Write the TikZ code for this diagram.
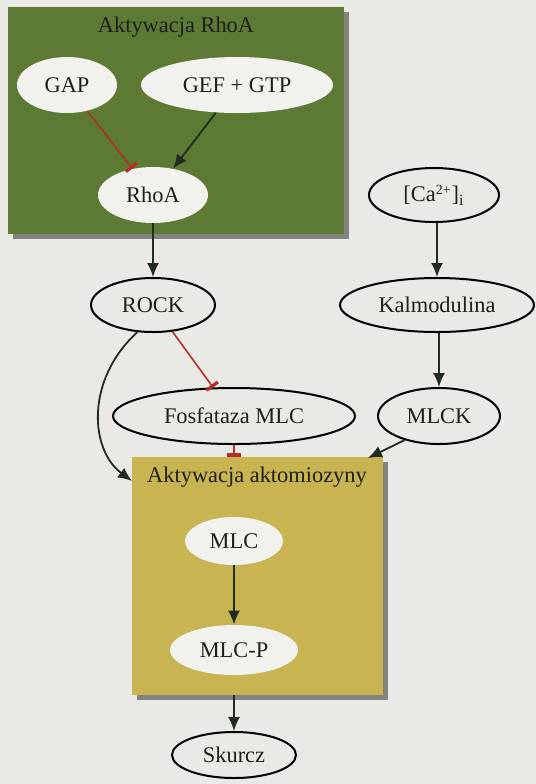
\documentclass[tikz,border=0pt]{standalone}
\usepackage{fontspec}
\setmainfont{Liberation Serif}
\usetikzlibrary{shapes.geometric,arrows.meta,shadows}
\definecolor{bg}{RGB}{233,233,230}
\definecolor{boxgreen}{RGB}{93,122,52}
\definecolor{boxyellow}{RGB}{201,180,82}
\definecolor{elfill}{RGB}{241,241,238}
\definecolor{arrcol}{RGB}{32,44,32}
\definecolor{inhcol}{RGB}{178,48,40}
\definecolor{txt}{RGB}{30,30,26}
\begin{document}
\begin{tikzpicture}[x=0.5pt,y=-0.5pt,
  font=\fontsize{11.2}{13}\selectfont, text=txt,
  inner/.style={ellipse, fill=elfill, inner sep=0pt},
  outer/.style={ellipse, draw=black, line width=1pt, inner sep=0pt},
  group/.style={inner sep=0pt, drop shadow={shadow xshift=2.5pt, shadow yshift=-2.5pt, fill=black!75, opacity=0.6}},
  arr/.style={draw=arrcol, line width=0.9pt, -{Latex[length=7pt,width=6pt]}},
  inhib/.style={draw=inhcol, line width=0.8pt, -{Bar[width=7pt,line width=1.6pt]}}]
\useasboundingbox[fill=bg] (0,0) rectangle (536,784);
% groups
\node[group, fill=boxgreen, minimum width=168pt, minimum height=113.5pt] (gbox) at (175.5,120.5) {};
\node (gtitle) at (176,27) {Aktywacja RhoA};
\node[group, fill=boxyellow, minimum width=125.5pt, minimum height=119pt] (ybox) at (257.5,576) {};
\node (ytitle) at (257,477) {Aktywacja aktomiozyny};
% inner nodes
\node[inner, minimum width=50pt, minimum height=28pt] (gap) at (67,85) {GAP};
\node[inner, minimum width=96pt, minimum height=28pt] (gef) at (237,85) {GEF + GTP};
\node[inner, minimum width=55pt, minimum height=28pt] (rhoa) at (153,195) {RhoA};
\node[inner, minimum width=49pt, minimum height=24pt] (mlc) at (234,541) {MLC};
\node[inner, minimum width=64pt, minimum height=25pt] (mlcp) at (234,650) {MLC-P};
% outer nodes
\node[outer, minimum width=65pt, minimum height=27pt] (ca) at (434,195) {[Ca\textsuperscript{\scriptsize 2+}]\textsubscript{i}};
\node[outer, minimum width=62pt, minimum height=27pt] (rock) at (153,305) {ROCK};
\node[outer, minimum width=97pt, minimum height=27pt] (kalm) at (437,305) {Kalmodulina};
\node[outer, minimum width=121pt, minimum height=28pt] (fosf) at (234,416) {Fosfataza MLC};
\node[outer, minimum width=61pt, minimum height=28pt] (mlck) at (439,416) {MLCK};
\node[outer, minimum width=62pt, minimum height=23pt] (skurcz) at (234,755) {Skurcz};
\coordinate (yin) at (132,481);
\coordinate (yin2) at (368,458);
% connectors
\draw[inhib] (gap) -- (rhoa);
\draw[arr] (gef) -- (rhoa);
\draw[arr] (rhoa) -- (rock);
\draw[arr] (ca.south -| kalm) -- (kalm);
\draw[arr] (kalm.south -| mlck) -- (mlck);
\draw[inhib] (rock) -- (fosf);
\draw[inhib] (fosf.south) -- (fosf.south |- ybox.north);
\draw[arr] (rock.240) .. controls (85,380) and (90,450) .. (yin);
\draw[arr] (mlck.215) -- (yin2);
\draw[arr] (mlc) -- (mlcp);
\draw[arr] (ybox.south -| skurcz) -- (skurcz);
\end{tikzpicture}
\end{document}
